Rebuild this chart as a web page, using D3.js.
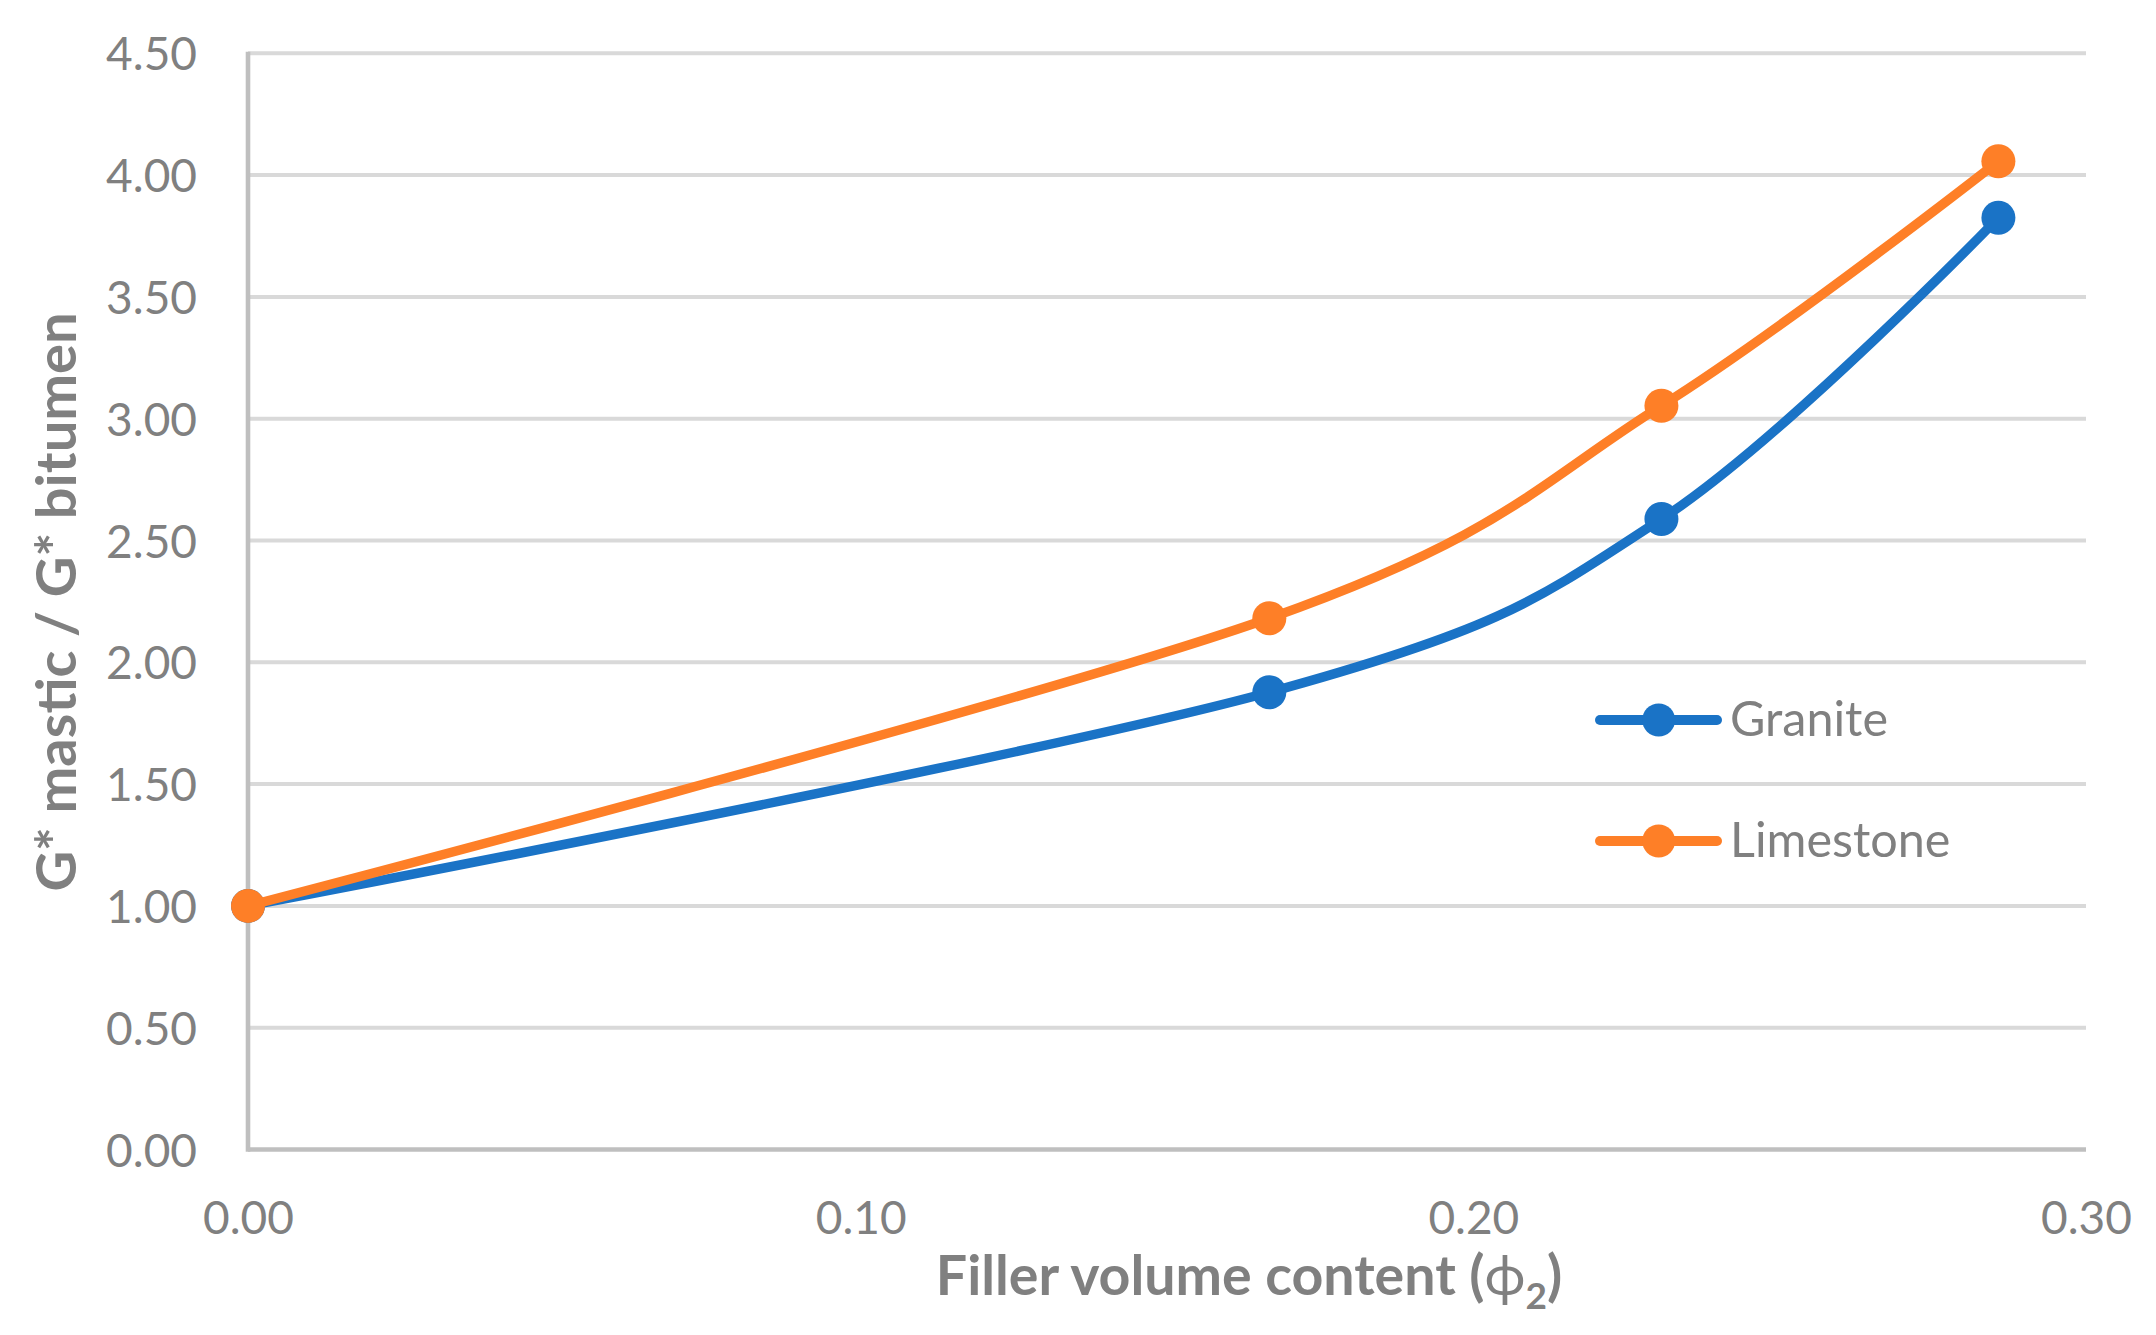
<!DOCTYPE html>
<html>
<head>
<meta charset="utf-8">
<script src="https://cdn.jsdelivr.net/npm/d3@7"></script>
<style>
  html, body { margin: 0; padding: 0; background: #ffffff; }
  svg { display: block; }
</style>
</head>
<body>
<svg id="chart" width="2156" height="1335"></svg>
<script>
// ---- Data ----
const fillerContent = [0.0, 0.1667, 0.2307, 0.2857];
const granite = [1.00, 1.877, 2.588, 3.825];
const limestone = [1.00, 2.181, 3.053, 4.057];
const seriesNames = ["Granite", "Limestone"];
const yTicks = [0, 0.5, 1.0, 1.5, 2.0, 2.5, 3.0, 3.5, 4.0, 4.5];
const xTicks = [0, 0.1, 0.2, 0.3];
const xTitle = "Filler volume content (";
const yTitle = "G* mastic / G* bitumen";

// ---- Layout ----
const colors = ["#1a73c6", "#fe7f27"];
const gray = "#808080";
const font = "Lato, 'Open Sans', sans-serif";

const svg = d3.select("#chart");
const x = d3.scaleLinear().domain([0, 0.3]).range([248, 2086]);
const y = d3.scaleLinear().domain([0, 4.5]).range([1149.5, 53.3]);

// gridlines
svg.append("g").selectAll("line")
  .data(yTicks.filter(d => d > 0))
  .join("line")
  .attr("x1", x(0)).attr("x2", x(0.3))
  .attr("y1", d => y(d)).attr("y2", d => y(d))
  .attr("stroke", "#d9d9d9").attr("stroke-width", 4);

// axis lines
svg.append("line")
  .attr("x1", x(0)).attr("x2", x(0.3))
  .attr("y1", y(0)).attr("y2", y(0))
  .attr("stroke", "#bfbfbf").attr("stroke-width", 4.6);
svg.append("line")
  .attr("x1", x(0)).attr("x2", x(0))
  .attr("y1", y(4.5) - 1.5).attr("y2", y(0) + 2.3)
  .attr("stroke", "#bfbfbf").attr("stroke-width", 4.6);

// y axis labels
const yAxis = d3.axisLeft(y).tickValues(yTicks).tickFormat(d3.format(".2f"))
  .tickSize(0).tickPadding(51);
const gy = svg.append("g").attr("transform", `translate(${x(0)},0)`).call(yAxis);
gy.select(".domain").remove();
gy.selectAll("text")
  .attr("fill", gray).attr("font-family", font).attr("font-size", 46)
  .attr("dy", "0.36em");

// x axis labels
const xAxis = d3.axisBottom(x).tickValues(xTicks).tickFormat(d3.format(".2f"))
  .tickSize(0).tickPadding(0);
const gx = svg.append("g").attr("transform", `translate(0,${y(0)})`).call(xAxis);
gx.select(".domain").remove();
gx.selectAll("text")
  .attr("fill", gray).attr("font-family", font).attr("font-size", 46)
  .attr("dy", null).attr("y", 84.5);

// series lines
const seriesData = [granite, limestone].map((vals, i) => ({
  name: seriesNames[i], color: colors[i],
  pts: vals.map((v, j) => [fillerContent[j], v])
}));
const line = d3.line().x(d => x(d[0])).y(d => y(d[1])).curve(d3.curveCardinal.tension(0));

const sg = svg.append("g").selectAll("g").data(seriesData).join("g");
sg.append("path")
  .attr("d", d => line(d.pts))
  .attr("fill", "none").attr("stroke", d => d.color)
  .attr("stroke-width", 9.5).attr("stroke-linejoin", "round").attr("stroke-linecap", "round");
sg.selectAll("circle").data(d => d.pts.map(p => ({p, c: d.color}))).join("circle")
  .attr("cx", d => x(d.p[0])).attr("cy", d => y(d.p[1]))
  .attr("r", 17).attr("fill", d => d.c);

// legend
const legendY = [720, 841];
const lg = svg.append("g").selectAll("g").data(seriesData).join("g")
  .attr("transform", (d, i) => `translate(0,${legendY[i]})`);
lg.append("line").attr("x1", 1600).attr("x2", 1717).attr("y1", 0).attr("y2", 0)
  .attr("stroke", d => d.color).attr("stroke-width", 10).attr("stroke-linecap", "round");
lg.append("circle").attr("cx", 1658.7).attr("cy", 0).attr("r", 16.5).attr("fill", d => d.color);
lg.append("text").attr("x", 1730).attr("y", 15.5)
  .attr("fill", gray).attr("font-family", font).attr("font-size", 48.5)
  .text(d => d.name);

// x title
const xt = svg.append("text").attr("x", 1249).attr("y", 1295)
  .attr("text-anchor", "middle").attr("fill", gray)
  .attr("font-family", font).attr("font-size", 55.5).attr("font-weight", "bold");
xt.append("tspan").text(xTitle);
xt.append("tspan").attr("font-weight", "normal").text("\u03D5");
xt.append("tspan").attr("font-size", 37).attr("dy", 14).text("2");
xt.append("tspan").attr("dy", -14).text(")");

// y title
svg.append("text")
  .attr("transform", `translate(76,602) rotate(-90)`)
  .attr("text-anchor", "middle").attr("fill", gray)
  .attr("font-family", font).attr("font-size", 56).attr("font-weight", "bold")
  .text(yTitle);
</script>
</body>
</html>
